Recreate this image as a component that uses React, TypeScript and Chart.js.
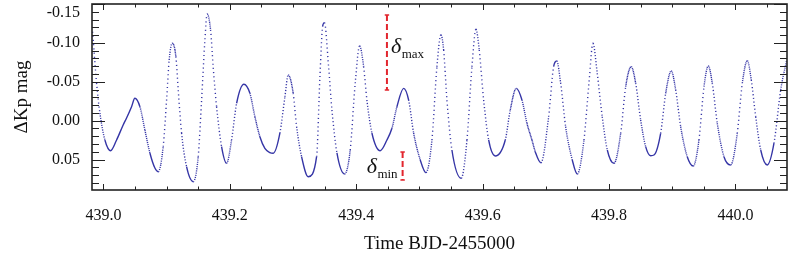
import React, { useEffect, useRef } from 'react';
import { Chart, registerables } from 'chart.js';

Chart.register(...registerables);

// ---- data ----
const TIME = [
  438.9829, 438.9892, 438.9945, 439.0024, 439.0114, 439.0209, 439.0313, 439.0367, 439.0446, 439.0498,
  439.0578, 439.0657, 439.0736, 439.0815, 439.0867, 439.0946, 439.1000, 439.1041, 439.1089, 439.1147,
  439.1184, 439.1237, 439.1316, 439.1421, 439.1500, 439.1554, 439.1606, 439.1642, 439.1696, 439.1737,
  439.1791, 439.1870, 439.1949, 439.2028, 439.2108, 439.2223, 439.2318, 439.2397, 439.2476, 439.2555,
  439.2634, 439.2687, 439.2793, 439.2872, 439.2924, 439.3003, 439.3057, 439.3136, 439.3241, 439.3373,
  439.3426, 439.3468, 439.3497, 439.3563, 439.3616, 439.3695, 439.3816, 439.3905, 439.3984, 439.4054,
  439.4117, 439.4169, 439.4248, 439.4380, 439.4486, 439.4565, 439.4644, 439.4750, 439.4829, 439.4908,
  439.5013, 439.5103, 439.5198, 439.5277, 439.5340, 439.5383, 439.5435, 439.5514, 439.5661, 439.5752,
  439.5831, 439.5894, 439.5946, 439.6016, 439.6095, 439.6199, 439.6358, 439.6437, 439.6532, 439.6622,
  439.6701, 439.6780, 439.6832, 439.6922, 439.7044, 439.7123, 439.7172, 439.7234, 439.7313, 439.7418,
  439.7497, 439.7603, 439.7682, 439.7745, 439.7813, 439.7892, 439.7972, 439.8078, 439.8184, 439.8263,
  439.8351, 439.8421, 439.8500, 439.8579, 439.8658, 439.8710, 439.8816, 439.8896, 439.8984, 439.9054,
  439.9133, 439.9237, 439.9332, 439.9422, 439.9502, 439.9570, 439.9633, 439.9712, 439.9818, 439.9924,
  440.0028, 440.0108, 440.0187, 440.0250, 440.0320, 440.0399, 440.0503, 440.0609, 440.0715, 440.0807,
];

const DMAG = [
  -0.1144, -0.0485, -0.0099, 0.0248, 0.0386, 0.0248, 0.0055, -0.0035, -0.0180, -0.0288,
  -0.0180, 0.0120, 0.0415, 0.0608, 0.0656, 0.0334, -0.0266, -0.0780, -0.0995, -0.0823,
  -0.0395, 0.0158, 0.0591, 0.0784, 0.0463, -0.0266, -0.1037, -0.1371, -0.1166, -0.0694,
  -0.0180, 0.0334, 0.0548, 0.0248, -0.0224, -0.0468, -0.0352, -0.0051, 0.0206, 0.0355,
  0.0411, 0.0419, 0.0158, -0.0308, -0.0587, -0.0352, 0.0077, 0.0463, 0.0720, 0.0463,
  -0.0566, -0.1208, -0.1260, -0.0694, -0.0138, 0.0415, 0.0685, 0.0377, -0.0481, -0.0960,
  -0.0694, -0.0266, 0.0158, 0.0386, 0.0248, 0.0098, -0.0180, -0.0416, -0.0266, 0.0158,
  0.0505, 0.0668, 0.0248, -0.0694, -0.1102, -0.0909, -0.0266, 0.0377, 0.0740, 0.0248,
  -0.0694, -0.1175, -0.0909, -0.0266, 0.0248, 0.0454, 0.0248, -0.0138, -0.0416, -0.0266,
  0.0033, 0.0248, 0.0398, 0.0540, -0.0051, -0.0694, -0.0767, -0.0485, 0.0077, 0.0505,
  0.0685, 0.0248, -0.0481, -0.0995, -0.0609, -0.0051, 0.0377, 0.0548, 0.0162, -0.0437,
  -0.0694, -0.0481, -0.0009, 0.0334, 0.0450, 0.0441, 0.0162, -0.0352, -0.0639, -0.0395,
  0.0077, 0.0463, 0.0582, 0.0248, -0.0437, -0.0703, -0.0481, 0.0033, 0.0463, 0.0569,
  0.0162, -0.0481, -0.0771, -0.0523, -0.0051, 0.0377, 0.0569, 0.0290, -0.0395, -0.0767,
];

const X_TICKS = [439.0, 439.2, 439.4, 439.6, 439.8, 440.0];
const Y_TICKS = [-0.15, -0.1, -0.05, 0.0, 0.05];
const X_RANGE = [438.982, 440.0815];
const Y_RANGE = [-0.15, 0.0891];

// amplitude markers
const DELTA_MAX_T = 439.4486;
const DELTA_MAX_Y = [-0.136, -0.0395];
const DELTA_MIN_T = 439.4734;
const DELTA_MIN_Y = [0.0402, 0.0762];

const CADENCE_DAYS = 0.000681; // Kepler short cadence

// ---- styling ----
const SERIF = '"Liberation Serif", "Times New Roman", Times, serif';
const BLUE = '#3535a6';
const RED = '#e2262e';
const AXIS = '#222222';
const TEXT = '#111111';

function dashFor(ctx: any) {
  const p0 = ctx.p0, p1 = ctx.p1;
  const dx = Math.abs(p1.x - p0.x) || 0.001;
  const dy = Math.abs(p1.y - p0.y);
  const s = dy / dx;
  const pxPerDay = 632;
  let step = pxPerDay * CADENCE_DAYS * Math.sqrt(1 + s * s);
  const dot = 1.1;
  if (step < 1.5) return [];
  step = Math.min(step, 4.2);
  return [dot, step - dot];
}

const decorPlugin = {
  id: 'decor',
  afterDatasetsDraw(chart: any) {
    const { ctx, chartArea: a, scales } = chart;
    const xs = scales.x;
    const ys = scales.y;
    ctx.save();

    // inward tick marks on all four sides
    ctx.strokeStyle = AXIS;
    ctx.lineWidth = 1;
    ctx.beginPath();
    for (let i = 0; i <= 24; i++) {
      const val = Math.round((438.95 + i * 0.05) * 100) / 100;
      if (val < X_RANGE[0] || val > X_RANGE[1]) continue;
      const px = Math.round(xs.getPixelForValue(val)) + 0.5;
      const major = X_TICKS.some((t) => Math.abs(t - val) < 1e-6);
      const len = major ? 6 : 3.5;
      ctx.moveTo(px, a.bottom);
      ctx.lineTo(px, a.bottom - len);
      ctx.moveTo(px, a.top);
      ctx.lineTo(px, a.top + len);
    }
    for (let i = -15; i <= 8; i++) {
      const val = i / 100;
      const py = Math.round(ys.getPixelForValue(val)) + 0.5;
      const major = i % 5 === 0;
      const len = major ? 13 : 7;
      ctx.moveTo(a.left, py);
      ctx.lineTo(a.left + len, py);
      ctx.moveTo(a.right, py);
      ctx.lineTo(a.right - len, py);
    }
    ctx.stroke();

    // plot frame
    ctx.lineWidth = 1.6;
    ctx.strokeRect(a.left, a.top, a.right - a.left, a.bottom - a.top);

    // top y label, set just below the top edge as in the reference
    ctx.fillStyle = TEXT;
    ctx.font = `16px ${SERIF}`;
    ctx.textAlign = 'right';
    ctx.textBaseline = 'middle';
    ctx.fillText('-0.15', a.left - 12, ys.getPixelForValue(-0.15) + 9);

    // amplitude markers
    const drawMarker = (t: number, yr: number[]) => {
      const x = xs.getPixelForValue(t);
      const y0 = ys.getPixelForValue(yr[0]);
      const y1 = ys.getPixelForValue(yr[1]);
      ctx.strokeStyle = RED;
      ctx.lineWidth = 2;
      ctx.setLineDash([6, 3]);
      ctx.beginPath();
      ctx.moveTo(x, y0);
      ctx.lineTo(x, y1);
      ctx.stroke();
      ctx.setLineDash([]);
      ctx.lineWidth = 1.5;
      ctx.beginPath();
      ctx.moveTo(x - 2.2, y0);
      ctx.lineTo(x + 2.2, y0);
      ctx.moveTo(x - 2.2, y1);
      ctx.lineTo(x + 2.2, y1);
      ctx.stroke();
      return { x, y0, y1 };
    };

    const mx = drawMarker(DELTA_MAX_T, DELTA_MAX_Y);
    const mn = drawMarker(DELTA_MIN_T, DELTA_MIN_Y);

    ctx.fillStyle = TEXT;
    ctx.textBaseline = 'alphabetic';
    // delta max label (right of its line)
    const midMax = (mx.y0 + mx.y1) / 2;
    ctx.textAlign = 'left';
    ctx.font = `italic 22px ${SERIF}`;
    ctx.fillText('δ', mx.x + 4, midMax + 1);
    const dW = ctx.measureText('δ').width;
    ctx.font = `13px ${SERIF}`;
    ctx.fillText('max', mx.x + 4 + dW + 0.5, midMax + 6);

    // delta min label (left of its line)
    ctx.textAlign = 'right';
    ctx.font = `13px ${SERIF}`;
    const minW = ctx.measureText('min').width;
    ctx.fillText('min', mn.x - 5, mn.y1 - 1.5);
    ctx.font = `italic 22px ${SERIF}`;
    ctx.fillText('δ', mn.x - 5 - minW - 0.5, mn.y1 - 7);

    ctx.restore();
  },
};

export default function App() {
  const ref = useRef<HTMLCanvasElement>(null);

  useEffect(() => {
    if (!ref.current) return;
    const points = TIME.map((t, i) => ({ x: t, y: DMAG[i] }));
    const chart = new Chart(ref.current, {
      type: 'line',
      data: {
        datasets: [
          {
            data: points,
            borderColor: BLUE,
            borderWidth: 1.4,
            pointRadius: 0,
            fill: false,
            cubicInterpolationMode: 'monotone',
            segment: { borderDash: (c: any) => dashFor(c) },
          } as any,
        ],
      },
      options: {
        animation: false,
        responsive: false,
        devicePixelRatio: 1,
        layout: { padding: { left: 0, right: 2, top: 4, bottom: 0 } },
        plugins: {
          legend: { display: false },
          tooltip: { enabled: false },
          title: { display: false },
        },
        scales: {
          x: {
            type: 'linear',
            min: X_RANGE[0],
            max: X_RANGE[1],
            afterBuildTicks: (scale: any) => {
              scale.ticks = X_TICKS.map((value) => ({ value }));
            },
            afterFit: (scale: any) => {
              scale.height = 73;
              scale.paddingLeft = 0;
              scale.paddingRight = 0;
            },
            grid: { display: false, drawTicks: false },
            border: { display: false },
            ticks: {
              color: TEXT,
              font: { family: SERIF, size: 16 },
              padding: 16,
              maxRotation: 0,
              autoSkip: false,
              callback: (v: any) => Number(v).toFixed(1),
            },
            title: {
              display: true,
              text: 'Time BJD-2455000',
              color: TEXT,
              font: { family: SERIF, size: 19 },
              padding: { top: 0, bottom: 8 },
            },
          },
          y: {
            type: 'linear',
            reverse: true,
            min: Y_RANGE[0],
            max: Y_RANGE[1],
            afterBuildTicks: (scale: any) => {
              scale.ticks = Y_TICKS.map((value) => ({ value }));
            },
            afterFit: (scale: any) => {
              scale.width = 92;
              scale.paddingTop = 0;
              scale.paddingBottom = 0;
            },
            grid: { display: false, drawTicks: false },
            border: { display: false },
            ticks: {
              color: TEXT,
              font: { family: SERIF, size: 16 },
              padding: 12,
              autoSkip: false,
              callback: (v: any) => {
                const n = Number(v);
                if (Math.abs(n + 0.15) < 1e-9) return '';
                return n.toFixed(2);
              },
            },
            title: {
              display: true,
              text: 'ΔKp mag',
              color: TEXT,
              font: { family: SERIF, size: 19 },
              padding: { top: 11, bottom: 0 },
            },
          },
        },
      },
      plugins: [decorPlugin],
    } as any);
    return () => chart.destroy();
  }, []);

  return (
    <div style={{ position: 'fixed', left: 0, top: 0, width: 789, height: 263, background: '#ffffff' }}>
      <canvas ref={ref} width={789} height={263} style={{ display: 'block', width: 789, height: 263 }} />
    </div>
  );
}
